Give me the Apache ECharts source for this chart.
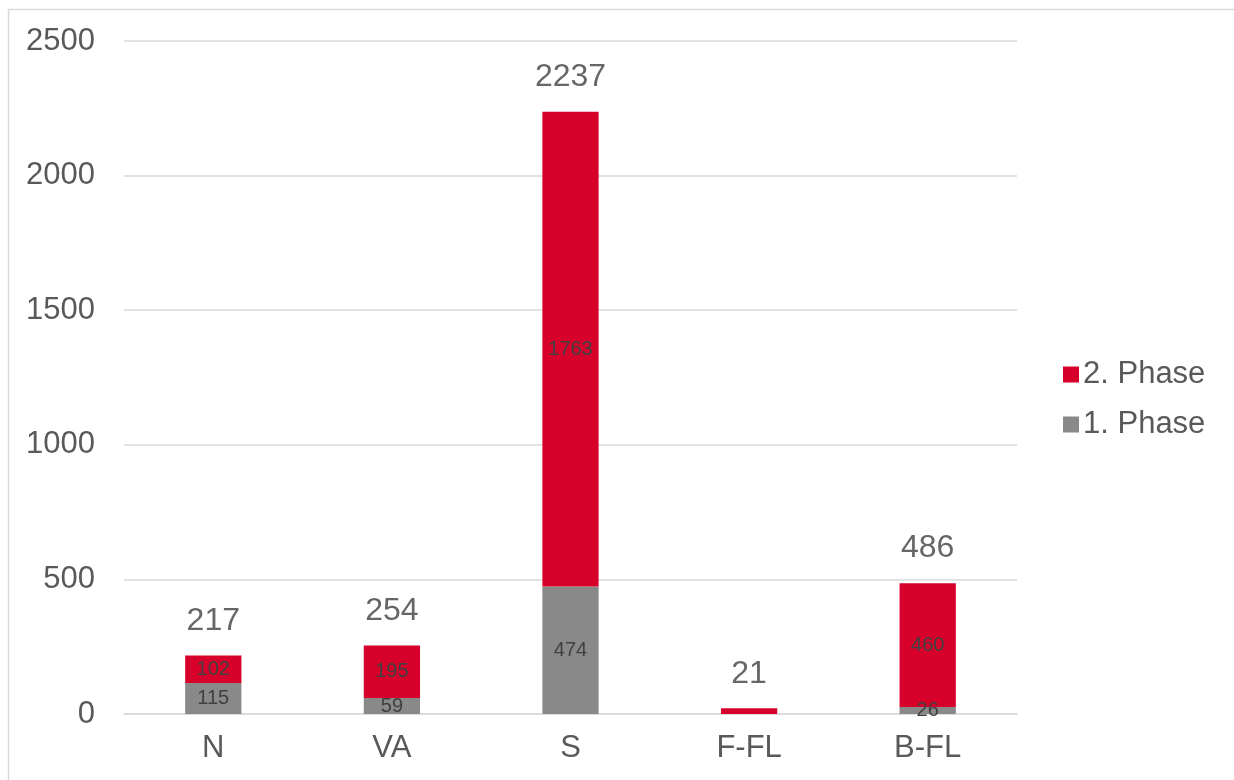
<!DOCTYPE html>
<html>
<head>
<meta charset="utf-8">
<script src="https://cdn.jsdelivr.net/npm/echarts@6/dist/echarts.min.js"></script>
<style>html,body{margin:0;padding:0;background:#fff;}#c{width:1234px;height:780px;}</style>
</head>
<body>
<div id="c"></div>
<script>
var categories = ['N', 'VA', 'S', 'F-FL', 'B-FL'];
var phase1 = [115, 59, 474, 0, 26];
var phase2 = [102, 195, 1763, 21, 460];
var totals = [217, 254, 2237, 21, 486];
var yTicks = [0, 500, 1000, 1500, 2000, 2500];

var chart = echarts.init(document.getElementById('c'));
var font = 'Arial, "Liberation Sans", sans-serif';
var innerLabel = { show: true, position: 'inside', fontSize: 20, color: '#404040', fontFamily: font,
  formatter: function (p) { return p.value === 0 ? '' : String(p.value); } };

chart.setOption({
  animation: false,
  graphic: [{ type: 'rect', shape: { x: 8.5, y: 9.5, width: 1300, height: 900 },
    style: { fill: 'none', stroke: '#d9d9d9', lineWidth: 1.5 }, silent: true }],
  grid: { left: 124, right: 217, top: 41, bottom: 66, containLabel: false },
  legend: {
    orient: 'vertical', left: 1058, top: 354, itemWidth: 16, itemHeight: 16, itemGap: 19,
    icon: 'rect', data: ['2. Phase', '1. Phase'],
    textStyle: { fontSize: 31, color: '#595959', fontFamily: font, padding: [0, 0, 0, -1] }
  },
  xAxis: {
    type: 'category', data: categories,
    axisLine: { lineStyle: { color: '#d9d9d9', width: 1.5 } },
    axisTick: { show: false },
    axisLabel: { fontSize: 31, color: '#595959', fontFamily: font, margin: 19 }
  },
  yAxis: {
    type: 'value', min: yTicks[0], max: yTicks[yTicks.length - 1], interval: 500,
    axisLine: { show: false }, axisTick: { show: false },
    splitLine: { lineStyle: { color: '#d9d9d9', width: 1.5 } },
    axisLabel: { fontSize: 31, color: '#595959', fontFamily: font, margin: 29,
      formatter: function (v) { return String(v); } }
  },
  series: [
    { name: '1. Phase', type: 'bar', stack: 'a', data: phase1, barWidth: '31.5%',
      itemStyle: { color: '#898989' }, label: innerLabel },
    { name: '2. Phase', type: 'bar', stack: 'a', barWidth: '31.5%',
      data: phase2.map(function (v, i) { return categories[i] === 'F-FL' ? { value: v, label: { show: false } } : v; }),
      itemStyle: { color: '#d7002b' }, label: innerLabel },
    { name: 'Total', type: 'scatter', data: totals, symbol: 'circle', symbolSize: 1,
      itemStyle: { color: 'rgba(0,0,0,0)' }, silent: true, z: 5,
      label: { show: true, position: 'top', distance: 18, fontSize: 32, color: '#404040', fontFamily: font } }
  ]
});
</script>
</body>
</html>
